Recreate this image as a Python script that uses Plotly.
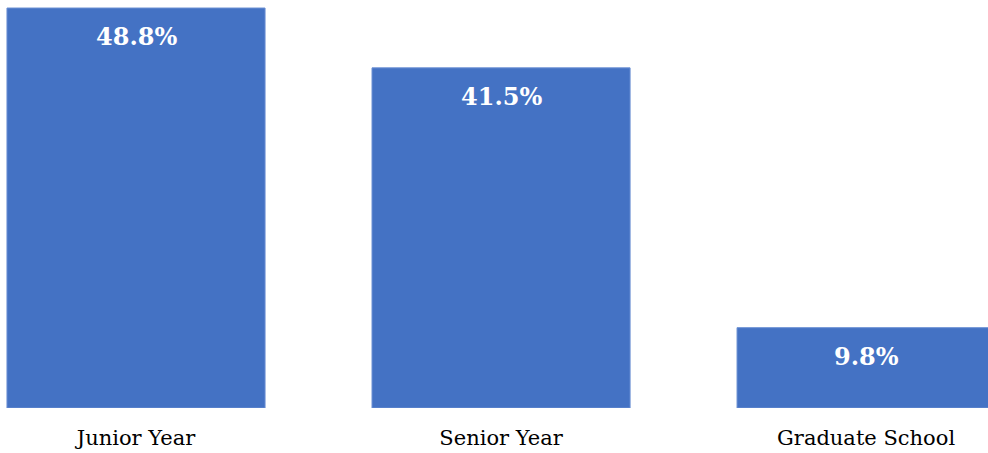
import plotly.graph_objects as go

categories = ["Junior Year", "Senior Year", "Graduate School"]
values = [48.8, 41.5, 9.8]
labels = ["48.8%", "41.5%", "9.8%"]

FONT = "Georgia, 'DejaVu Serif', serif"
BAR = "#4472C4"

fig = go.Figure(go.Bar(
    x=categories, y=values, width=0.707,
    marker=dict(color=BAR, line=dict(color="#6a8fd3", width=1)),
    hoverinfo="skip",
))

for c, v, t in zip(categories, values, labels):
    fig.add_annotation(x=c, y=v, text=t, showarrow=False, yanchor="top", yshift=-12,
                       font=dict(family=FONT, size=24, color="white", weight="bold"))

fig.update_layout(
    width=988, height=453,
    margin=dict(l=0, r=0, t=0, b=45),
    paper_bgcolor="white", plot_bgcolor="white",
    showlegend=False,
    xaxis=dict(range=[-0.3726, 2.334], showgrid=False, showline=False, zeroline=False,
               ticks="outside", ticklen=11, tickcolor="rgba(0,0,0,0)",
               tickfont=dict(family=FONT, size=21, color="black")),
    yaxis=dict(range=[0, 49.78], visible=False),
)

fig.write_html("out.html")
